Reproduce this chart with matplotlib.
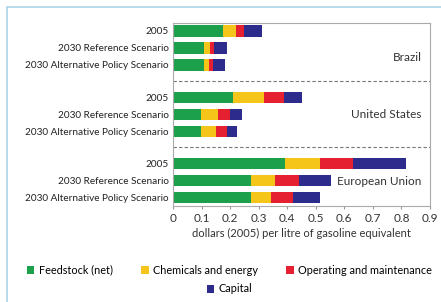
import matplotlib.pyplot as plt
from matplotlib.patches import Rectangle
import numpy as np

plt.rcParams["font.family"] = ["Lato", "DejaVu Sans"]

row_labels = [
    "2005", "2030 Reference Scenario", "2030 Alternative Policy Scenario",
] * 3
regions = ["Brazil", "United States", "European Union"]
components = ["Feedstock (net)", "Chemicals and energy",
              "Operating and maintenance", "Capital"]

# cost components per row (Brazil, United States, European Union)
feedstock = [0.174, 0.107, 0.107, 0.211, 0.097, 0.097, 0.392, 0.273, 0.274]
chemicals = [0.046, 0.023, 0.020, 0.106, 0.059, 0.053, 0.123, 0.083, 0.070]
operating = [0.030, 0.015, 0.013, 0.073, 0.044, 0.038, 0.117, 0.084, 0.077]
capital = [0.060, 0.045, 0.043, 0.063, 0.043, 0.036, 0.184, 0.113, 0.095]

colors = ["#1da04c", "#f6c51a", "#e52030", "#2d2b8c"]

group_gap = 3.9
y = np.array([g * group_gap + i for g in range(3) for i in range(3)])

fig = plt.figure(figsize=(4.41, 3.02), dpi=100)
ax = fig.add_axes([173 / 441, 1 - 206 / 302, 257 / 441, 183 / 302])

left = np.zeros(len(y))
for vals, col, name in zip([feedstock, chemicals, operating, capital],
                           colors, components):
    ax.barh(y, vals, left=left, height=0.66, color=col, label=name,
            linewidth=0)
    left += np.array(vals)

for g in range(1, 3):
    ax.axhline(g * group_gap - 0.96, color="#777777", linestyle="--",
               linewidth=0.8, dashes=(3, 2))

label_y = [1.55, group_gap + 1.0, 2 * group_gap + 1.05]
for name, ly in zip(regions, label_y):
    ax.text(0.87, ly, name, ha="right", va="center", fontsize=8.5,
            color="#333333")

ax.set_yticks(y)
ax.set_yticklabels(row_labels, fontsize=7.2, color="#222222")
ax.tick_params(axis="y", length=0, pad=3)
ax.set_xlim(0, 0.9)
ax.set_xticks(np.arange(0, 0.91, 0.1))
ax.set_xticklabels(["0"] + [f"{v:.1f}" for v in np.arange(0.1, 0.91, 0.1)],
                   fontsize=8.5, color="#333333")
ax.tick_params(axis="x", length=2, color="#999999", pad=3)
ax.set_ylim(10.3, -0.47)
ax.set_xlabel("dollars (2005) per litre of gasoline equivalent",
              fontsize=8, color="#333333", labelpad=3)
for sp in ax.spines.values():
    sp.set_color("#aaaaaa")
    sp.set_linewidth(0.8)

handles, labels = ax.get_legend_handles_labels()
fig.legend(handles[:3], labels[:3], loc="center", ncol=3, frameon=False,
           bbox_to_anchor=(0.52, 1 - 270 / 302), fontsize=7.8,
           handlelength=0.7, handleheight=0.7, handletextpad=0.4,
           columnspacing=2.6)
fig.legend(handles[3:], labels[3:], loc="center", ncol=1, frameon=False,
           bbox_to_anchor=(0.52, 1 - 289 / 302), fontsize=7.8,
           handlelength=0.7, handleheight=0.7, handletextpad=0.4)

fig.patches.append(Rectangle((7 / 441, -0.1), 1.1, 1 - 7 / 302 + 0.1,
                             transform=fig.transFigure, fill=False,
                             edgecolor="#a9d4e4", linewidth=1.2))

fig.savefig("out.png", dpi=100)
plt.close(fig)
